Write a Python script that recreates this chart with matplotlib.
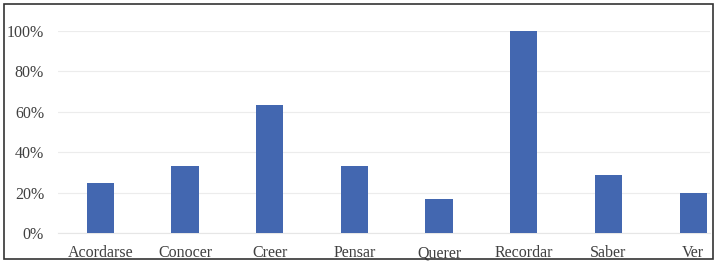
import matplotlib
matplotlib.use('Agg')
import matplotlib.pyplot as plt
from matplotlib.patches import Rectangle
from matplotlib.ticker import PercentFormatter

# Data
verbs = ['Acordarse', 'Conocer', 'Creer', 'Pensar', 'Querer', 'Recordar', 'Saber', 'Ver']
shares = [0.25, 0.333, 0.636, 0.333, 0.167, 1.00, 0.286, 0.20]
y_ticks = [0, 0.2, 0.4, 0.6, 0.8, 1.0]

plt.rcParams['font.family'] = ['Liberation Serif', 'DejaVu Serif']

fig = plt.figure(figsize=(7.2, 2.67), dpi=100)
ax = fig.add_axes([58 / 720, 1 - 233 / 267, (710 - 58) / 720, (233 - 31) / 267])

x = list(range(len(verbs)))
ax.bar(x, shares, width=0.32, color='#4367b0', zorder=3)

ax.set_xlim(-0.5, 7.2)
ax.set_ylim(0, 1.0)
ax.set_yticks(y_ticks)
ax.yaxis.set_major_formatter(PercentFormatter(1.0, decimals=0))
ax.set_xticks(x)
ax.set_xticklabels(verbs, va='baseline')
ax.grid(axis='y', color='#ececec', linewidth=0.8, zorder=0)
ax.set_axisbelow(True)
ax.tick_params(axis='both', length=0, labelsize=11.5, colors='#404040')
ax.tick_params(axis='y', pad=10)
ax.tick_params(axis='x', pad=17.5)
for side in ['top', 'right', 'left']:
    ax.spines[side].set_visible(False)
ax.spines['bottom'].set_color('#e6e6e6')
ax.spines['bottom'].set_linewidth(0.8)

# outer frame around the chart
fig.patches.append(Rectangle((4 / 720, 1 - 259 / 267), (713 - 4) / 720, (259 - 4) / 267,
                             transform=fig.transFigure, fill=False,
                             edgecolor='#333333', linewidth=1.2))

fig.savefig('out.png', dpi=100)
